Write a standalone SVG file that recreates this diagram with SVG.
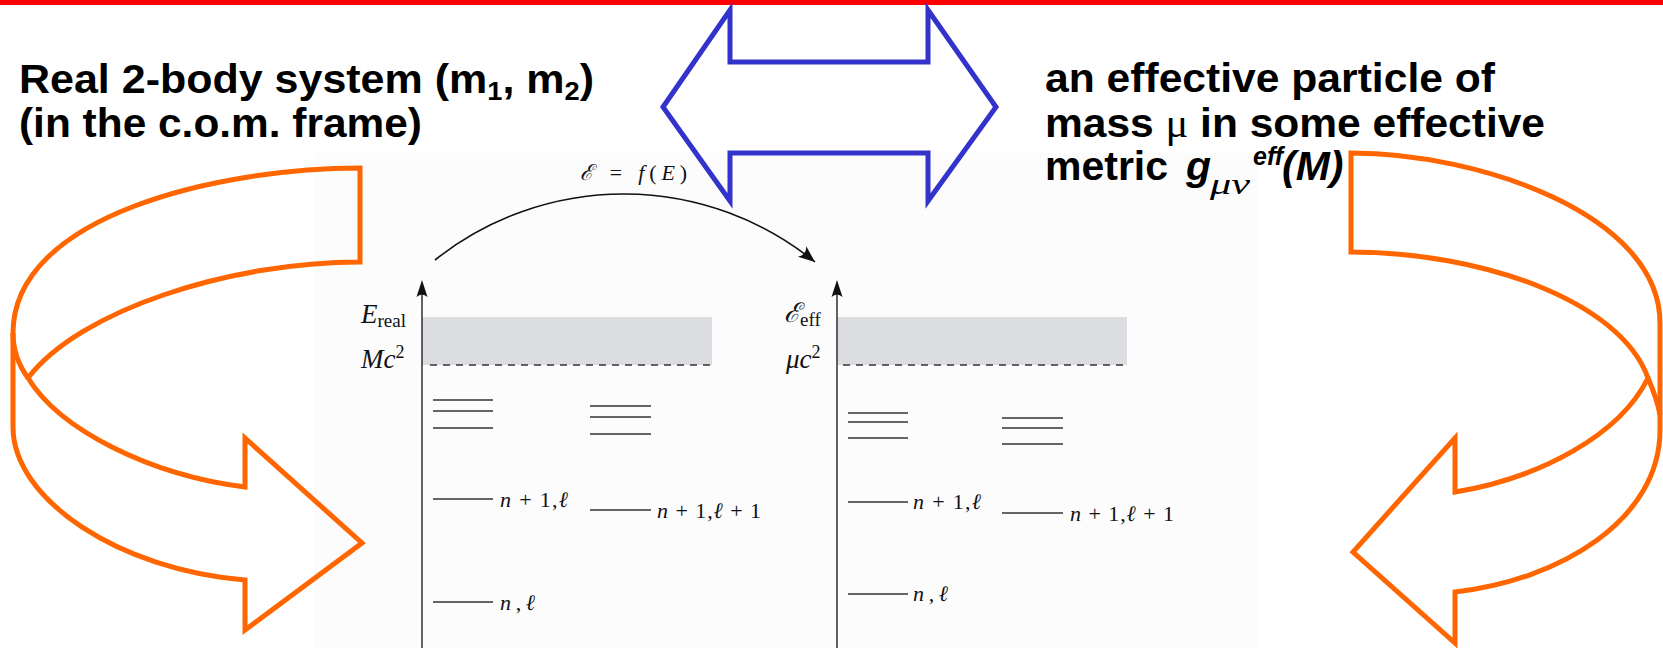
<svg xmlns="http://www.w3.org/2000/svg" width="1663" height="648" viewBox="0 0 1663 648">
<style>
.title{font-family:"Liberation Sans",Arial,sans-serif;font-weight:bold;font-size:41px;fill:#000}
.sup{font-size:25px;font-style:italic}
.sub{font-size:26px}
.orange{fill:none;stroke:#ff6600;stroke-width:5;stroke-linejoin:miter}
.blue{fill:none;stroke:#3333cc;stroke-width:5;stroke-linejoin:miter}
.m{font-family:"Liberation Serif","DejaVu Serif",serif;font-style:italic;fill:#111}
.up{font-style:normal}
.lvl{stroke:#333;stroke-width:1.6}
.axis{stroke:#222;stroke-width:1.4}
.band{fill:#dcdde0}
.dash{stroke:#333;stroke-width:1.4;stroke-dasharray:7 6}
</style>
<defs>
<marker id="ah" markerUnits="userSpaceOnUse" markerWidth="20" markerHeight="20" viewBox="-16 -8 18 16" refX="0" refY="0" orient="auto">
<path d="M0,0 L-15,-6 Q-10,0 -15,6 Z" fill="#111"/>
</marker>
</defs>
<rect x="0" y="0" width="1663" height="648" fill="#ffffff"/>
<rect x="315" y="153" width="943" height="495" fill="#fcfcfc"/>
<rect id="topbar" x="0" y="0" width="1663" height="5" fill="#ff0000"/>

<g id="title-left">
<text class="title" x="19" y="93" textLength="575" lengthAdjust="spacingAndGlyphs">Real 2-body system (m<tspan class="sub" dy="7">1</tspan><tspan dy="-7">, m</tspan><tspan class="sub" dy="7">2</tspan><tspan dy="-7">)</tspan></text>
<text class="title" x="19" y="137" textLength="403" lengthAdjust="spacingAndGlyphs">(in the c.o.m. frame)</text>
</g>

<g id="title-right">
<text class="title" x="1045" y="92" textLength="450" lengthAdjust="spacingAndGlyphs">an effective particle of</text>
<text class="title" x="1045" y="137" textLength="500" lengthAdjust="spacingAndGlyphs">mass <tspan style="font-family:'Liberation Serif',serif;font-weight:normal">μ</tspan> in some effective</text>
<text class="title" x="1045" y="180">metric</text>
<text class="title" x="1186" y="180" style="font-style:italic">g</text>
<text x="1210" y="194" textLength="40" lengthAdjust="spacingAndGlyphs" style="font-family:'Liberation Serif',serif;font-style:italic;font-size:30px" fill="#000">μν</text>
<text class="title sup" x="1253" y="165">eff</text>
<text class="title" x="1282" y="180" style="font-style:italic">(M)</text>
</g>

<g id="double-arrow">
<polygon class="blue" points="663,107 730,10 730,62 928,62 928,10 996,107 928,201 928,153 730,153 730,201"/>
</g>

<g id="curved-arrow-left">
<path class="orange" d="M360,168 C220,168 13,215 13,333 L13,427 C13,500 120,570 245,580 L245,630 L362,543 L245,438 L245,487 C150,475 60,430 28,378 C80,310 230,262 360,262 Z"/>
<path class="orange" d="M13,333 C13,352 20,367 28,378"/>
</g>

<g id="curved-arrow-right">
<path class="orange" d="M1351,153 C1480,153 1660,215 1660,323 L1660,430 C1660,520 1560,580 1455,592 L1455,643 L1353,552 L1455,438 L1455,492 C1540,478 1620,435 1648,378 C1620,300 1480,252 1351,252 Z"/>
<path class="orange" d="M1648,378 C1654,392 1658,403 1660,415"/>
</g>

<g id="diagram-real">
<rect class="band" x="422" y="317" width="290" height="48"/>
<line class="dash" x1="430" y1="365" x2="712" y2="365"/>
<line class="axis" x1="422" y1="290" x2="422" y2="648"/>
<path d="M422,280 L416.5,297 Q422,292 427.5,297 Z" fill="#111"/>
<text class="m" x="361" y="323" font-size="27">E<tspan class="up" font-size="19" dy="4">real</tspan></text>
<text class="m" x="361" y="368" font-size="27">Mc<tspan class="up" font-size="18" dy="-10">2</tspan></text>
<line class="lvl" x1="433" y1="400" x2="493" y2="400"/>
<line class="lvl" x1="433" y1="411" x2="493" y2="411"/>
<line class="lvl" x1="433" y1="428" x2="493" y2="428"/>
<line class="lvl" x1="590" y1="406" x2="651" y2="406"/>
<line class="lvl" x1="590" y1="417" x2="651" y2="417"/>
<line class="lvl" x1="590" y1="434" x2="651" y2="434"/>
<line class="lvl" x1="433" y1="499" x2="493" y2="499"/>
<text class="m" x="500" y="507" font-size="22" textLength="68">n <tspan class="up">+ 1,</tspan>ℓ</text>
<line class="lvl" x1="590" y1="510" x2="651" y2="510"/>
<text class="m" x="657" y="518" font-size="22" textLength="104">n <tspan class="up">+ 1,</tspan>ℓ <tspan class="up">+ 1</tspan></text>
<line class="lvl" x1="433" y1="602" x2="493" y2="602"/>
<text class="m" x="500" y="610" font-size="22" textLength="35">n<tspan class="up">,</tspan>ℓ</text>
</g>

<g id="diagram-eff">
<rect class="band" x="837" y="317" width="290" height="48"/>
<line class="dash" x1="843" y1="365" x2="1127" y2="365"/>
<line class="axis" x1="837" y1="290" x2="837" y2="648"/>
<path d="M837,280 L831.5,297 Q837,292 842.5,297 Z" fill="#111"/>
<text class="m" x="784" y="322" font-size="27">ℰ<tspan class="up" font-size="19" dy="4">eff</tspan></text>
<text class="m" x="786" y="368" font-size="27">μc<tspan class="up" font-size="18" dy="-10">2</tspan></text>
<line class="lvl" x1="848" y1="413" x2="908" y2="413"/>
<line class="lvl" x1="848" y1="422" x2="908" y2="422"/>
<line class="lvl" x1="848" y1="438" x2="908" y2="438"/>
<line class="lvl" x1="1002" y1="418" x2="1063" y2="418"/>
<line class="lvl" x1="1002" y1="428" x2="1063" y2="428"/>
<line class="lvl" x1="1002" y1="444" x2="1063" y2="444"/>
<line class="lvl" x1="848" y1="502" x2="908" y2="502"/>
<text class="m" x="913" y="509" font-size="22" textLength="68">n <tspan class="up">+ 1,</tspan>ℓ</text>
<line class="lvl" x1="1002" y1="513" x2="1063" y2="513"/>
<text class="m" x="1070" y="521" font-size="22" textLength="104">n <tspan class="up">+ 1,</tspan>ℓ <tspan class="up">+ 1</tspan></text>
<line class="lvl" x1="848" y1="594" x2="908" y2="594"/>
<text class="m" x="913" y="601" font-size="22" textLength="35">n<tspan class="up">,</tspan>ℓ</text>
</g>

<g id="connectors">
<path d="M435,260 A303,303 0 0 1 815,262" fill="none" stroke="#111" stroke-width="1.6" marker-end="url(#ah)"/>
<text class="m" x="580" y="180" font-size="22" textLength="107">ℰ = f<tspan class="up">(</tspan>E<tspan class="up">)</tspan></text>
</g>
</svg>
